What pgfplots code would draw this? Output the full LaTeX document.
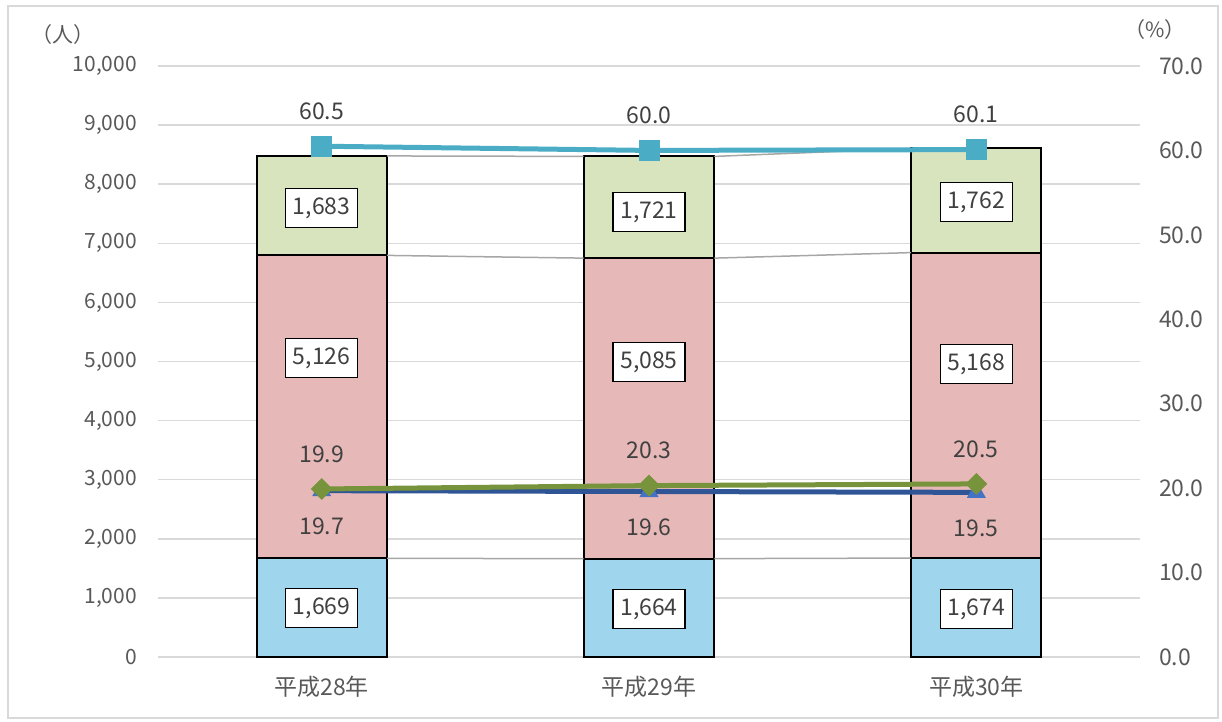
\documentclass[border=0pt]{standalone}
\usepackage{pgfplots}
\pgfplotsset{compat=1.18}
\usepackage{fontspec}
\setmainfont{Noto Sans CJK JP}
\definecolor{barblue}{HTML}{9FD6EE}
\definecolor{barpink}{HTML}{E6B8B7}
\definecolor{bargreen}{HTML}{D7E4BD}
\definecolor{lcyan}{HTML}{4BACC6}
\definecolor{lgreen}{HTML}{77933C}
\definecolor{lblue}{HTML}{2F5597}
\definecolor{tblue}{HTML}{4472C4}
\definecolor{gridgray}{HTML}{D9D9D9}
\definecolor{labgray}{HTML}{595959}
\definecolor{datgray}{HTML}{404040}
\definecolor{sergray}{HTML}{A6A6A6}
\newcommand{\cf}{\fontsize{10.5}{12}\selectfont}
\newcommand{\df}{\fontsize{11.5}{13}\selectfont}
\pgfplotsset{
  base/.style={scale only axis, width=491pt, height=295.5pt,
    xmin=-0.5, xmax=2.5, clip=false,
    /pgf/number format/assume math mode=true,
    /pgf/number format/1000 sep={,},
    major tick length=0pt,
    tick label style={font=\cf, text=labgray}},
}
\begin{document}
\begin{tikzpicture}
% bars
\begin{axis}[base,
  ymin=0, ymax=10000, ybar stacked, bar width=65pt,
  xtick={0,1,2}, xticklabels={平成28年,平成29年,平成30年},
  ytick={0,1000,...,10000}, scaled y ticks=false,
  ymajorgrids, grid style={color=gridgray, line width=0.75pt},
  axis line style={draw=none},
  x tick label style={yshift=-6pt, font=\df},
  y tick label style={xshift=-7pt},
]
\addplot[fill=barblue, draw=black, line width=1pt] coordinates {(0,1669) (1,1664) (2,1674)};
\addplot[fill=barpink, draw=black, line width=1pt] coordinates {(0,5126) (1,5085) (2,5168)};
\addplot[fill=bargreen, draw=black, line width=1pt] coordinates {(0,1683) (1,1721) (2,1762)};
\end{axis}
% series lines and bar labels
\begin{axis}[base, ymin=0, ymax=10000, hide axis]
\addplot[sergray, line width=0.75pt] coordinates {(0.2,1669) (0.8,1664)};
\addplot[sergray, line width=0.75pt] coordinates {(1.2,1664) (1.8,1674)};
\addplot[sergray, line width=0.75pt] coordinates {(0.2,6795) (0.8,6749)};
\addplot[sergray, line width=0.75pt] coordinates {(1.2,6749) (1.8,6842)};
\addplot[sergray, line width=0.75pt] coordinates {(0.2,8478) (0.8,8470)};
\addplot[sergray, line width=0.75pt] coordinates {(1.2,8470) (1.8,8604)};
\addplot[draw=none, mark=none, point meta=explicit,
  nodes near coords={\pgfmathprintnumber[1000 sep={,}]{\pgfplotspointmeta}},
  every node near coord/.style={draw=black, fill=white, line width=0.75pt,
    anchor=center, font=\df, text=datgray, minimum width=36pt, minimum height=19.5pt, inner sep=1pt}]
  coordinates {(0,829) [1669] (1,812) [1664] (2,812) [1674]
               (0,5059) [5126] (1,4992) [5085] (2,4958) [5168]
               (0,7597) [1683] (1,7530) [1721] (2,7699) [1762]};
\end{axis}
% lines on right axis
\begin{axis}[base, ymin=0, ymax=70,
  axis y line*=right, axis x line=none,
  axis line style={draw=none},
  ytick={0,10,...,70},
  y tick label style={/pgf/number format/.cd, fixed, fixed zerofill, precision=1, /tikz/.cd, xshift=6pt, font=\df},
  nodes near coords={\pgfmathprintnumber[fixed, fixed zerofill, precision=1]{\pgfplotspointmeta}},
]
\addplot[color=lblue, line width=2.5pt, mark=triangle*, mark size=5pt,
  mark options={fill=tblue, draw=tblue, line width=0.5pt},
  every node near coord/.style={anchor=center, yshift=-18pt, font=\df, text=datgray}]
  coordinates {(0,19.7) (1,19.6) (2,19.5)};
\addplot[color=lgreen, line width=2.5pt, mark=square*, mark size=3.6pt,
  mark options={rotate=45, fill=lgreen, draw=lgreen, line width=0.5pt},
  every node near coord/.style={anchor=center, yshift=17.5pt, font=\df, text=datgray}]
  coordinates {(0,19.9) (1,20.3) (2,20.5)};
\addplot[color=lcyan, line width=2.5pt, mark=square*, mark size=5pt,
  mark options={fill=lcyan, draw=lcyan, line width=0.5pt},
  every node near coord/.style={anchor=center, yshift=17.5pt, font=\df, text=datgray}]
  coordinates {(0,60.5) (1,60.0) (2,60.1)};
\end{axis}
\node[font=\cf, text=labgray] at (-47.5pt,311pt) {（人）};
\node[font=\cf, text=labgray] at (498.5pt,313.5pt) {（\%）};
\draw[gridgray, line width=1pt] (-75pt,-30.5pt) rectangle (530pt,325.5pt);
\pgfresetboundingbox
\path[use as bounding box] (-79pt,-32.5pt) rectangle (532pt,328.5pt);
\end{tikzpicture}
\end{document}
